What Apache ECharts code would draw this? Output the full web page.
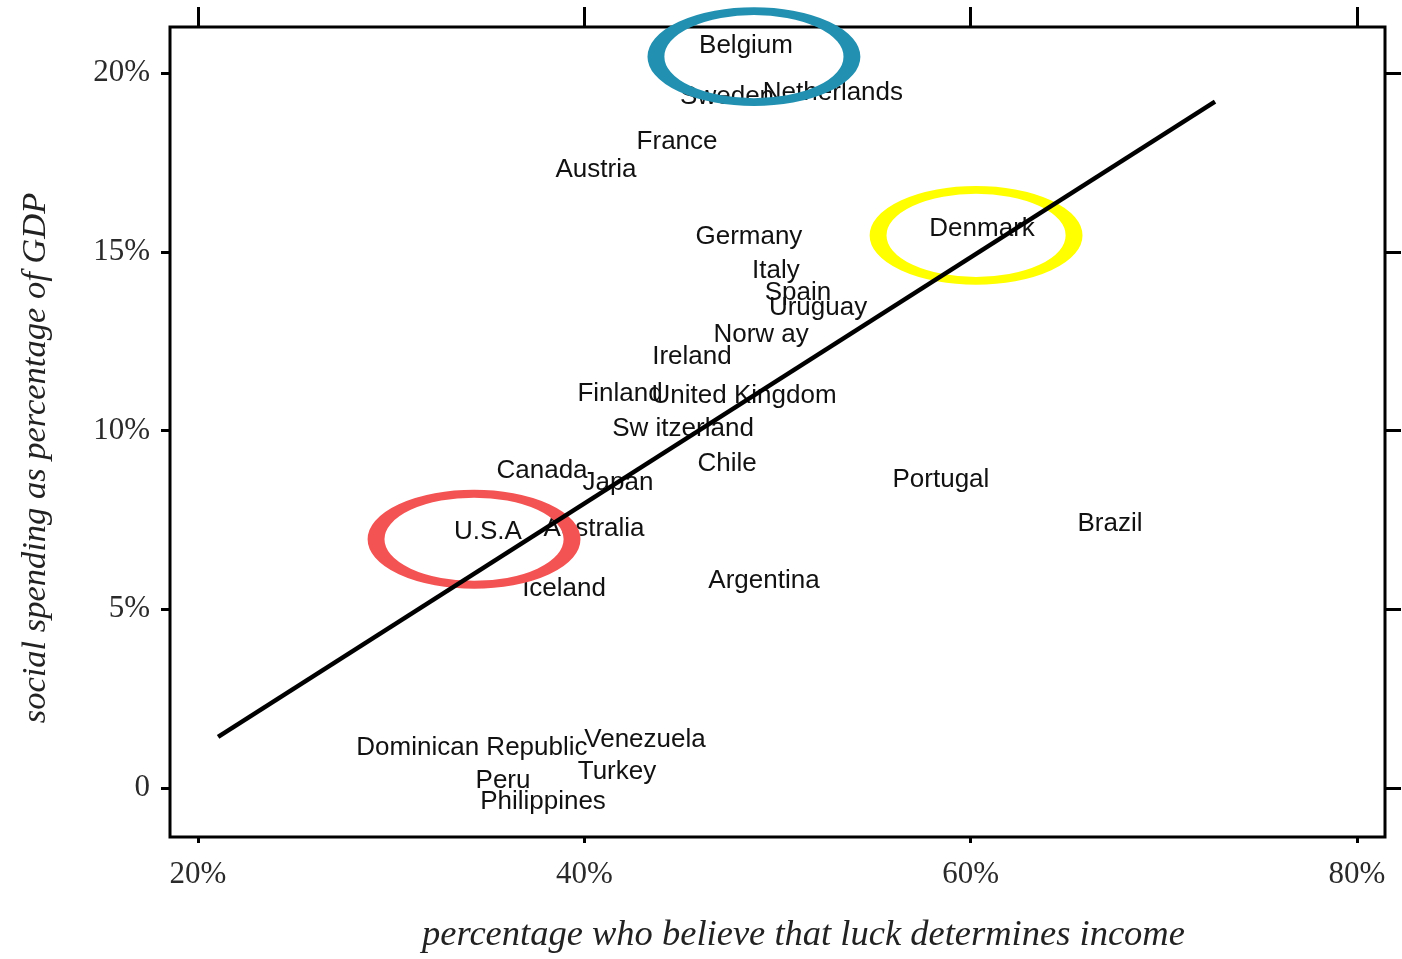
<!DOCTYPE html>
<html>
<head>
<meta charset="utf-8">
<title>Luck and social spending</title>
<script src="https://cdn.jsdelivr.net/npm/echarts@6/dist/echarts.min.js"></script>
<style>
  html, body { margin: 0; padding: 0; background: #fff; }
  #chart { width: 1402px; height: 959px; }
</style>
</head>
<body>
<div id="chart"></div>
<script>
// country labels, x = % who believe luck determines income, y = social spending % of GDP
const countries = [
  'Belgium', 'Sweden', 'Netherlands', 'France', 'Austria', 'Germany', 'Italy', 'Spain',
  'Uruguay', 'Norw ay', 'Ireland', 'Finland', 'United Kingdom', 'Sw itzerland', 'Chile',
  'Canada', 'Japan', 'Portugal', 'Brazil', 'U.S.A', 'Australia', 'Iceland', 'Argentina',
  'Denmark', 'Dominican Republic', 'Venezuela', 'Turkey', 'Peru', 'Philippines'
]
const luckPct = [
  48.37, 47.39, 52.87, 44.80, 40.60, 48.52, 49.92, 51.06,
  52.10, 49.15, 45.57, 41.85, 48.27, 45.11, 47.39,
  37.81, 41.74, 58.46, 67.21, 35.01, 40.50, 38.95, 49.30,
  60.59, 34.18, 43.14, 41.69, 35.79, 37.86
]
const spendingPct = [
  20.77, 19.35, 19.45, 18.08, 17.30, 15.43, 14.48, 13.86,
  13.42, 12.69, 12.07, 11.04, 10.98, 10.06, 9.08,
  8.86, 8.55, 8.61, 7.38, 7.18, 7.24, 5.56, 5.79,
  15.65, 1.12, 1.34, 0.45, 0.20, -0.39
]

// fitted line end points
const fitX = [21.04, 72.65]
const fitY = [1.43, 19.20]

// highlighted countries (ellipse centres)
const highlightNames = ['Belgium', 'Denmark', 'U.S.A']
const highlightX = [48.78, 60.28, 34.29]
const highlightY = [20.46, 15.46, 6.96]

// tick labels
const xTicks = [20, 40, 60, 80]
const yTicks = [0, 5, 10, 15, 20]

const highlightColors = ['#2190b1', '#ffff00', '#f45353']

const chart = echarts.init(document.getElementById('chart'))

const serif = '"Liberation Serif", "DejaVu Serif", serif'

const baseX = {
  type: 'value',
  min: 18.55,
  max: 81.45,
  splitLine: { show: false },
  axisLine: { show: false, onZero: false }
}
const baseY = {
  type: 'value',
  min: -1.37,
  max: 21.29,
  splitLine: { show: false },
  axisLine: { show: false, onZero: false }
}

const option = {
  animation: false,
  backgroundColor: '#fff',
  grid: {
    left: 170,
    top: 27,
    right: 17,
    bottom: 118,
    show: true,
    borderColor: '#000',
    borderWidth: 3
  },
  xAxis: [
    {
      ...baseX,
      position: 'bottom',
      name: 'percentage who believe that luck determines income',
      nameLocation: 'middle',
      nameGap: 80,
      nameTextStyle: {
        fontFamily: serif,
        fontStyle: 'italic',
        fontSize: 36.5,
        color: '#222',
        padding: [0, 0, 0, 52]
      },
      axisTick: {
        show: true,
        customValues: xTicks,
        length: 6,
        lineStyle: { color: '#000', width: 3 }
      },
      axisLabel: {
        customValues: xTicks,
        margin: 22,
        fontFamily: serif,
        fontSize: 31,
        color: '#2a2a2a',
        formatter: (v) => v + '%'
      }
    },
    {
      ...baseX,
      position: 'top',
      axisTick: {
        show: true,
        customValues: xTicks,
        length: 20,
        lineStyle: { color: '#000', width: 3 }
      },
      axisLabel: { show: false }
    }
  ],
  yAxis: [
    {
      ...baseY,
      position: 'left',
      name: 'social spending as percentage of GDP',
      nameLocation: 'middle',
      nameGap: 117,
      nameTextStyle: {
        fontFamily: serif,
        fontStyle: 'italic',
        fontSize: 34.5,
        color: '#222',
        padding: [0, 52, 0, 0]
      },
      axisTick: {
        show: true,
        customValues: yTicks,
        length: 9,
        lineStyle: { color: '#000', width: 3 }
      },
      axisLabel: {
        customValues: yTicks,
        margin: 20,
        fontFamily: serif,
        fontSize: 31,
        color: '#2a2a2a',
        formatter: (v) => (v === 0 ? '0' : v + '%')
      }
    },
    {
      ...baseY,
      position: 'right',
      axisTick: {
        show: true,
        customValues: yTicks,
        length: 16,
        lineStyle: { color: '#000', width: 3 }
      },
      axisLabel: { show: false }
    }
  ],
  series: [
    {
      name: 'countries',
      type: 'scatter',
      z: 2,
      clip: false,
      symbolSize: 1,
      itemStyle: { color: 'rgba(0,0,0,0)', opacity: 1 },
      label: {
        show: true,
        position: 'inside',
        formatter: (p) => p.name,
        fontFamily: '"Liberation Sans", Arial, sans-serif',
        fontSize: 26,
        color: '#111'
      },
      data: countries.map((c, i) => ({ name: c, value: [luckPct[i], spendingPct[i]] }))
    },
    {
      name: 'highlight',
      type: 'scatter',
      z: 3,
      clip: false,
      silent: true,
      symbol: 'path://M0,50 A50,50 0 1,1 100,50 A50,50 0 1,1 0,50 Z',
      symbolSize: [196, 91],
      data: highlightNames.map((c, i) => ({
        name: c,
        value: [highlightX[i], highlightY[i]],
        itemStyle: {
          color: 'rgba(0,0,0,0)',
          borderColor: highlightColors[i],
          borderWidth: 11.5,
          opacity: 1
        }
      }))
    },
    {
      name: 'fit',
      type: 'line',
      z: 4,
      showSymbol: false,
      symbol: 'none',
      lineStyle: { color: '#000', width: 4.5 },
      data: fitX.map((x, i) => [x, fitY[i]])
    }
  ]
}

chart.setOption(option)
</script>
</body>
</html>
